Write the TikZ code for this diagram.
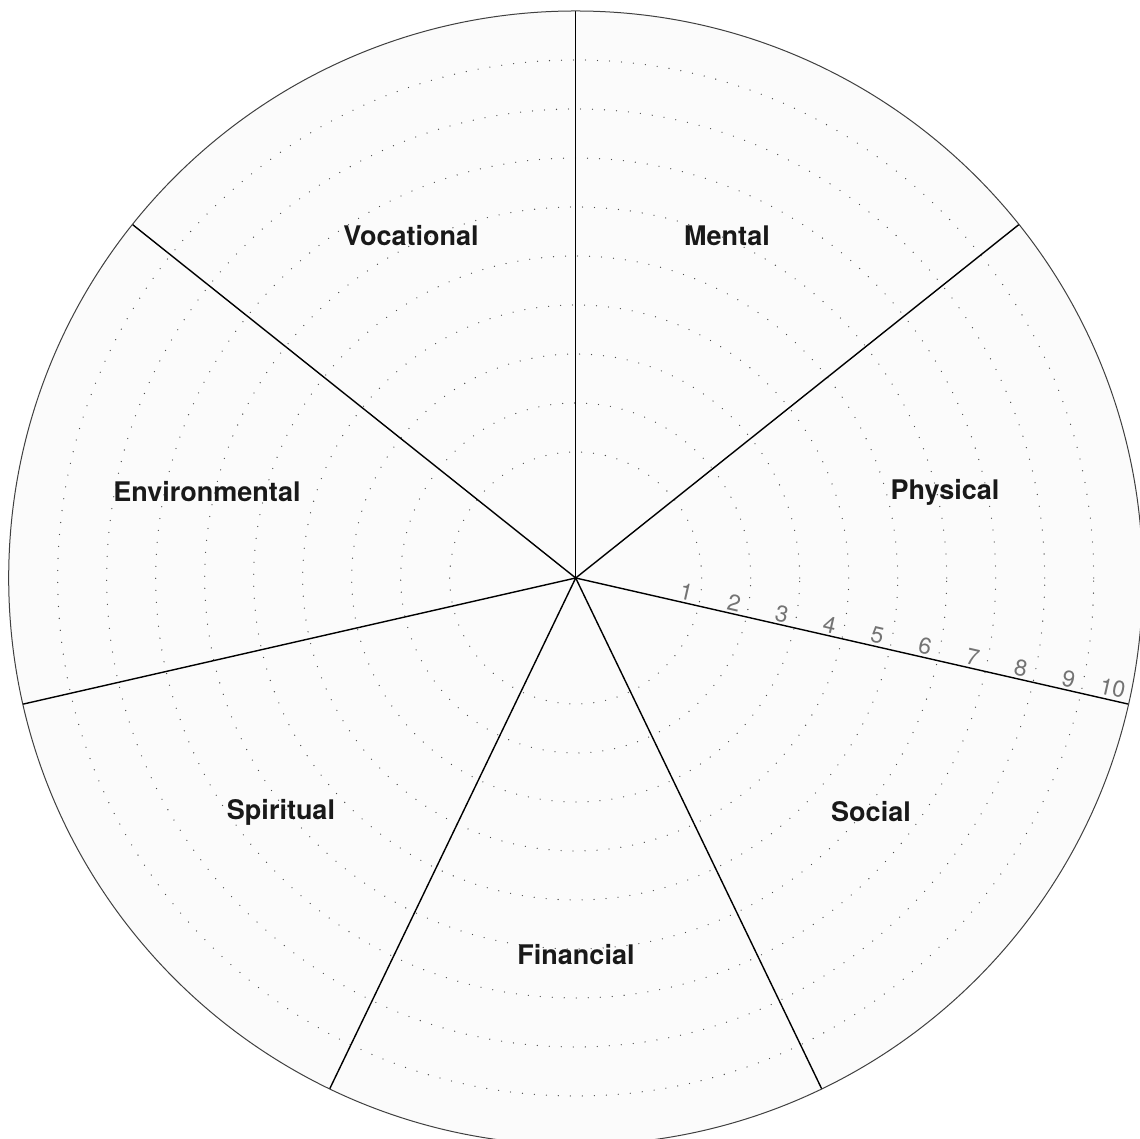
\documentclass[tikz,border=0pt]{standalone}
\usepackage{fontspec}
\setmainfont{TeX Gyre Heros}
\usetikzlibrary{calc}
\begin{document}
\begin{tikzpicture}[x=1pt,y=1pt,
  spoke/.style={line width=1.4pt,black},
  rim/.style={line width=1pt,black!75},
  ring/.style={line width=1.3pt,black!70,line cap=round,dash pattern=on 0pt off 12pt},
  area/.style={font=\fontsize{27}{32}\selectfont\bfseries,text=black!90},
  num/.style={font=\fontsize{23}{26}\selectfont,text=black!55,rotate=-12.857,inner sep=0pt}]
\useasboundingbox (0,0) rectangle (1140,1139);
\clip (0,0) rectangle (1140,1139);
\fill[white] (0,0) rectangle (1140,1139);
\coordinate (c) at (575.7,561);
\fill[black!1.5] (c) circle (567);
\foreach \r in {126,175,224,273,322,371,420,469,518}{
  \draw[ring] (c) circle (\r);
}
\foreach \i in {0,...,6}{
  \coordinate (p\i) at ($(c)+({90-\i*360/7}:567)$);
  \draw[spoke] (c) -- (p\i);
}
\draw[rim] (c) circle (567);
\foreach \k in {1,...,9}{
  \pgfmathsetmacro{\rr}{126+49*(\k-1)-15}
  \node[num] (n\k) at ($(c)+(-12.857:\rr)+(77.143:11)$) {\k};
}
\node[num] (n10) at ($(c)+(-12.857:548)+(77.143:12)$) {10};
\node[area] (voc) at (411,903) {Vocational};
\node[area] (men) at (727,903) {Mental};
\node[area] (phy) at (945,647) {Physical};
\node[area] (env) at (207,647) {Environmental};
\node[area] (spi) at (281,327) {Spiritual};
\node[area] (soc) at (871,327) {Social};
\node[area] (fin) at (576,184) {Financial};
\end{tikzpicture}
\end{document}
